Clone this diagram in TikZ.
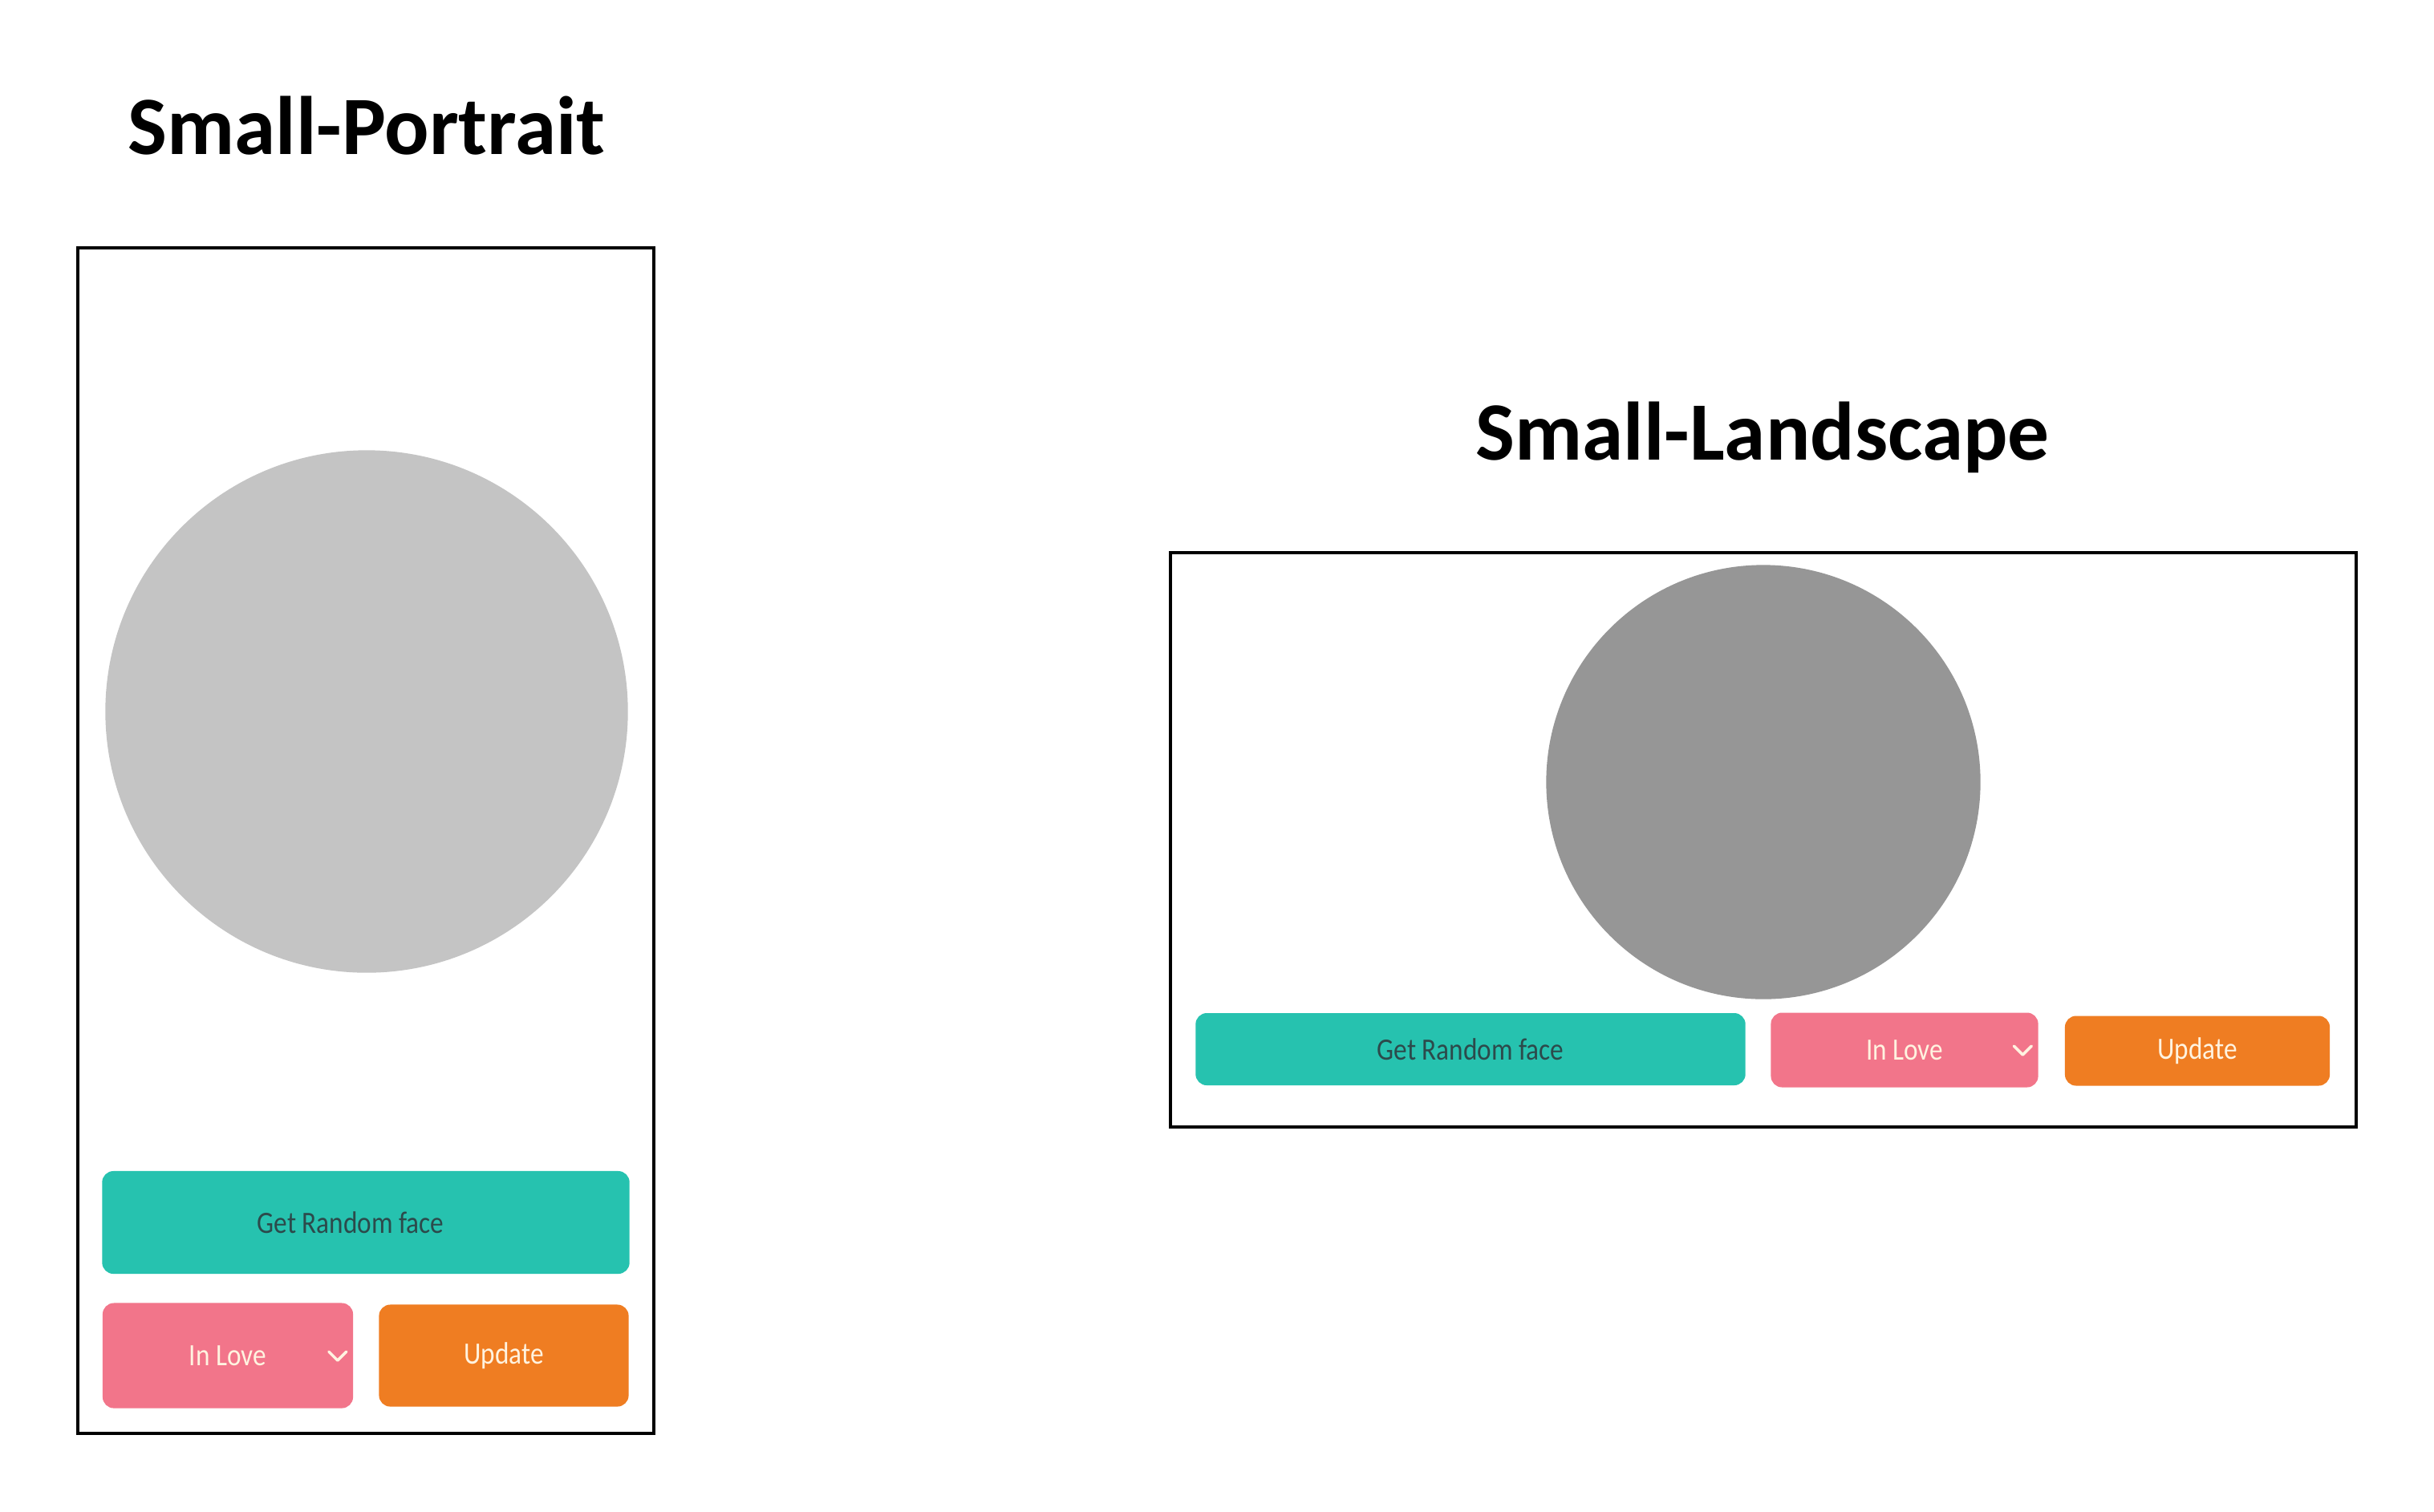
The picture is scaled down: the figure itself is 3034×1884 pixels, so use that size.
\documentclass[tikz,border=0pt]{standalone}
\usepackage{fontspec}
\setmainfont{Carlito}
\newfontfamily\btnfont{Carlito}[FakeStretch=0.86]

\definecolor{faceLight}{HTML}{C4C4C4}
\definecolor{faceDark}{HTML}{969696}
\definecolor{teal}{HTML}{26C2AF}
\definecolor{rose}{HTML}{F2758A}
\definecolor{tangerine}{HTML}{EF7D22}
\definecolor{slate}{HTML}{2C4A4B}
\definecolor{cream}{HTML}{FFF3E0}

\tikzset{
	frame/.style={draw=black, line width=0.04cm, inner sep=0pt},
	btn/.style={rounded corners=0.14cm, inner sep=0pt, font=\btnfont\fontsize{11}{13}\selectfont},
	heading/.style={anchor=base, inner sep=0pt, font=\bfseries\fontsize{29.4}{34}\selectfont},
	face/.style={circle, inner sep=0pt},
	chevron/.style={draw=cream, line width=0.035cm, line cap=round, line join=round}
}

\begin{document}
\begin{tikzpicture}[x=0.01cm, y=-0.01cm]
	\useasboundingbox[fill=white] (0,0) rectangle (3034,1884);
	
	% Small-Portrait
	\node (titleP) [heading] at (457,192) {Small-Portrait};
	\node (frameP) [frame, minimum width=7.18cm, minimum height=14.77cm] at (456,1048) {};
	\node (faceP) [face, fill=faceLight, minimum size=6.51cm] at (457,887) {};
	\node (randomP) [btn, fill=teal, minimum width=6.57cm, minimum height=1.28cm,
		label={[name=randomPtext, xshift=-0.19cm, text=slate, font=\btnfont\fontsize{11}{13}\selectfont]center:Get Random face}] at (456,1524) {};
	\node (moodP) [btn, fill=rose, text=cream, minimum width=3.12cm, minimum height=1.31cm] at (284,1690) {In Love};
	\node (updateP) [btn, fill=tangerine, text=cream, minimum width=3.11cm, minimum height=1.27cm] at (628,1690) {Update};
	\draw[chevron] ([xshift=-0.2cm]moodP.east) ++(-11,-5) -- ++(11,11) -- ++(11,-11);
	
	% Small-Landscape
	\node (titleL) [heading] at (2197,573) {Small-Landscape};
	\node (frameL) [frame, minimum width=14.77cm, minimum height=7.16cm] at (2198,1047) {};
	\node (faceL) [face, fill=faceDark, minimum size=5.41cm] at (2198,975) {};
	\node (randomL) [btn, fill=teal, text=slate, minimum width=6.85cm, minimum height=0.90cm] at (1833,1308) {Get Random face};
	\node (moodL) [btn, fill=rose, text=cream, minimum width=3.33cm, minimum height=0.93cm] at (2374,1309) {In Love};
	\node (updateL) [btn, fill=tangerine, text=cream, minimum width=3.30cm, minimum height=0.87cm] at (2739,1310) {Update};
	\draw[chevron] ([xshift=-0.2cm]moodL.east) ++(-11,-5) -- ++(11,11) -- ++(11,-11);
	
\end{tikzpicture}
\end{document}
